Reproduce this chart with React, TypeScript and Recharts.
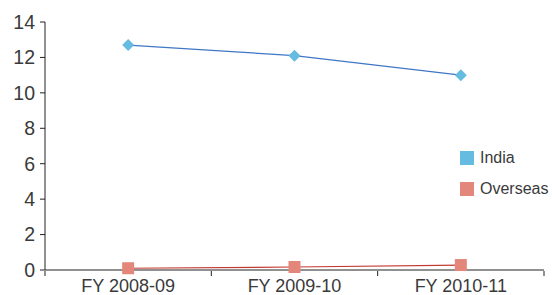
import React from "react";
import { LineChart, Line, XAxis, YAxis } from "recharts";

const years = ["FY 2008-09", "FY 2009-10", "FY 2010-11"];
const india = [12.7, 12.1, 11.0];
const overseas = [0.1, 0.17, 0.28];
const yTicks = [0, 2, 4, 6, 8, 10, 12, 14];

const series = [
  { key: "india", name: "India", line: "#3f76c6", marker: "#66bbe0" },
  { key: "overseas", name: "Overseas", line: "#c43a33", marker: "#e3877b" },
];

const data = years.map((year, i) => ({
  year,
  india: india[i],
  overseas: overseas[i],
}));

const FONT = "'Liberation Sans', Arial, sans-serif";

const Diamond = ({ cx, cy, fill }: any) => {
  if (cx == null || cy == null) return null;
  const r = 6;
  return (
    <path
      d={`M${cx},${cy - r} L${cx + r},${cy} L${cx},${cy + r} L${cx - r},${cy} Z`}
      fill={fill}
    />
  );
};

const Square = ({ cx, cy, fill }: any) => {
  if (cx == null || cy == null) return null;
  const s = 12;
  return <rect x={cx - s / 2} y={cy - s / 2} width={s} height={s} fill={fill} />;
};

// label at the band centre, tick marks on the band edges
const BandTick = (props: any) => {
  const { x, y, payload, index, visibleTicksCount, width } = props;
  const count = visibleTicksCount || years.length;
  const half = width / count / 2;
  const axisY = y - 7;
  return (
    <g>
      <line x1={x - half} x2={x - half} y1={axisY} y2={axisY + 5} stroke="#222" />
      {index === count - 1 && (
        <line x1={x + half} x2={x + half} y1={axisY} y2={axisY + 5} stroke="#222" />
      )}
      <text x={x} y={y + 13.5} textAnchor="middle" fill="#3a3a3a" fontSize={18} fontFamily={FONT}>
        {payload.value}
      </text>
    </g>
  );
};

const App = () => {
  return (
    <div style={{ position: "absolute", left: 0, top: 0, width: 552, height: 295, background: "#fff" }}>
      <LineChart width={552} height={295} data={data} margin={{ top: 22, right: 8, left: 0, bottom: 0 }}>
        <XAxis
          dataKey="year"
          scale="band"
          height={25}
          axisLine={{ stroke: "#222" }}
          tickLine={false}
          tick={<BandTick />}
          interval={0}
        />
        <YAxis
          domain={[0, 14]}
          ticks={yTicks}
          width={45}
          axisLine={{ stroke: "#222" }}
          tickLine={{ stroke: "#222" }}
          tickSize={5}
          tickMargin={5}
          tick={{ fill: "#3a3a3a", fontSize: 19.5, fontFamily: FONT }}
        />
        <Line
          dataKey="india"
          name="India"
          stroke={series[0].line}
          strokeWidth={1.2}
          dot={<Diamond fill={series[0].marker} />}
          activeDot={false}
          isAnimationActive={false}
        />
        <Line
          dataKey="overseas"
          name="Overseas"
          stroke={series[1].line}
          strokeWidth={1.2}
          dot={<Square fill={series[1].marker} />}
          activeDot={false}
          isAnimationActive={false}
        />
      </LineChart>
      <div style={{ position: "absolute", left: 460, top: 148, fontFamily: FONT, fontSize: 16, color: "#3a3a3a" }}>
        {series.map((s) => (
          <div key={s.key} style={{ display: "flex", alignItems: "center", height: 19, marginBottom: 12 }}>
            <span style={{ width: 14, height: 14, background: s.marker, marginRight: 6, display: "inline-block" }} />
            <span>{s.name}</span>
          </div>
        ))}
      </div>
    </div>
  );
};

export default App;
